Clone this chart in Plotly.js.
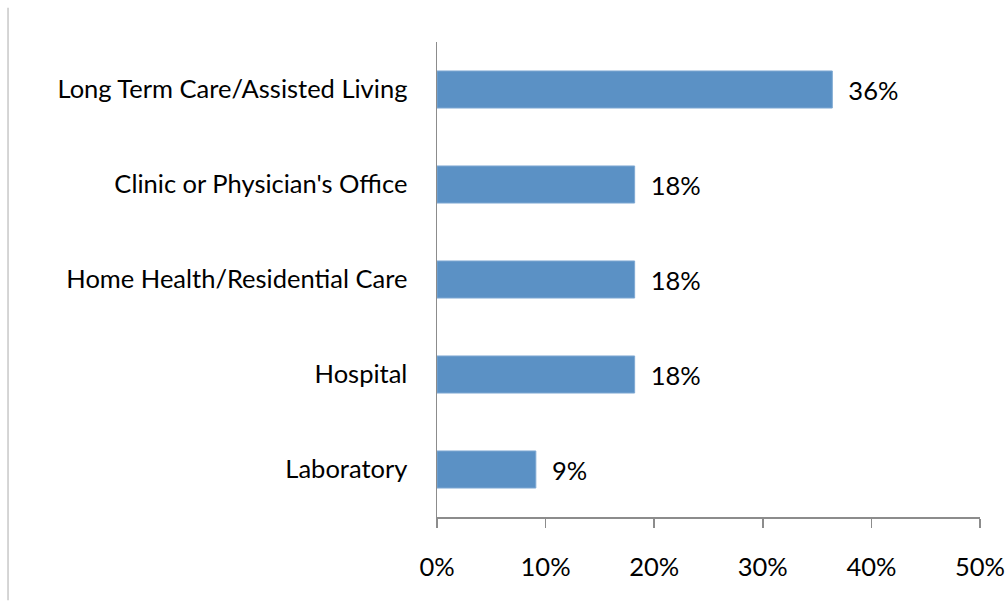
<!DOCTYPE html>
<html>
<head>
<meta charset="utf-8">
<script src="https://cdn.plot.ly/plotly-3.0.1.min.js"></script>
<style>html,body{margin:0;padding:0;background:#fff;}#chart{width:1008px;height:602px;}</style>
</head>
<body>
<div id="chart"></div>
<script>
const categories = ["Long Term Care/Assisted Living", "Clinic or Physician's Office", "Home Health/Residential Care", "Hospital", "Laboratory"];
const values = [36.4, 18.2, 18.2, 18.2, 9.1];
const labels = ["36%", "18%", "18%", "18%", "9%"];
const tickVals = [0, 10, 20, 30, 40, 50];
const tickText = ["0%", "10%", "20%", "30%", "40%", "50%"];

const font = {family: "Lato, 'Open Sans', sans-serif", size: 25.5, color: "#000"};

Plotly.newPlot("chart", [{
  type: "bar",
  orientation: "h",
  y: categories,
  x: values,
  text: labels.map(s => "  " + s),
  textposition: "outside",
  textfont: font,
  cliponaxis: false,
  marker: {color: "#5b91c5", line: {color: "#7fa9d3", width: 1}},
  hoverinfo: "none"
}], {
  width: 1008, height: 602,
  margin: {l: 437, r: 28, t: 42, b: 85},
  paper_bgcolor: "#fff", plot_bgcolor: "#fff",
  bargap: 0.61,
  showlegend: false,
  font: font,
  xaxis: {
    range: [0, 50], tickvals: tickVals, ticktext: tickText,
    showgrid: false, zeroline: false,
    showline: true, linecolor: "#8c8c8c", linewidth: 1.5,
    ticks: "outside", ticklen: 9, tickwidth: 1.5, tickcolor: "#8c8c8c",
    ticklabelstandoff: 18, tickfont: font, fixedrange: true
  },
  yaxis: {
    autorange: "reversed", categoryorder: "array", categoryarray: categories,
    showgrid: false, zeroline: false,
    showline: true, linecolor: "#8c8c8c", linewidth: 1.5,
    ticks: "", ticklabelstandoff: 23, tickfont: font, fixedrange: true
  },
  shapes: [{type: "line", xref: "paper", yref: "paper", x0: -0.79, x1: -0.79, y0: -0.175, y1: 1.072,
    line: {color: "#c8c8c8", width: 1.5}}]
}, {displayModeBar: false, staticPlot: true});
</script>
</body>
</html>
